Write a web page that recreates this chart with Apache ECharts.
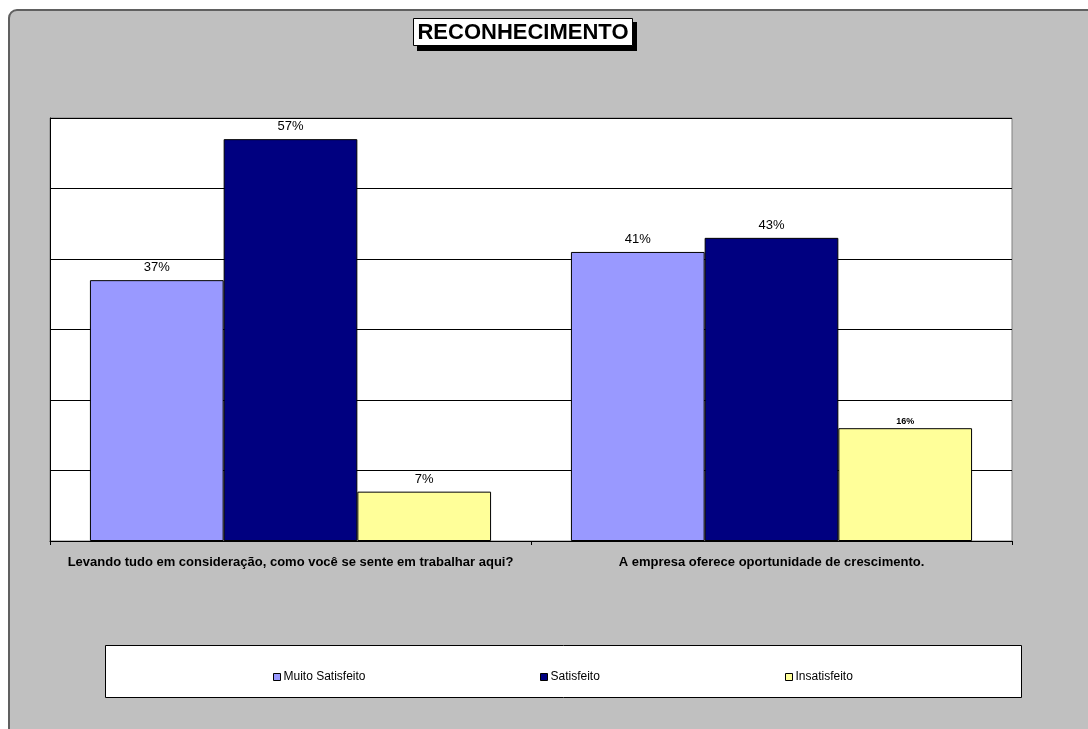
<!DOCTYPE html>
<html>
<head>
<meta charset="utf-8">
<script src="https://cdn.jsdelivr.net/npm/echarts@6/dist/echarts.min.js"></script>
<style>
  html, body { margin: 0; padding: 0; background: #ffffff; }
  #frame {
    position: absolute; left: 8px; top: 9px; width: 1100px; height: 740px;
    background: #C0C0C0; border: 2px solid #606060; border-radius: 9px; box-sizing: border-box;
  }
  #chart { position: absolute; left: 0; top: 0; width: 1088px; height: 729px; }
</style>
</head>
<body>
<div id="frame"></div>
<div id="chart"></div>
<script>
// Survey questions (x categories)
const categories = [
  'Levando tudo em consideração, como você se sente em trabalhar aqui?',
  'A empresa oferece oportunidade de crescimento.'
];
// Answer groups
const seriesNames = ['Muito Satisfeito', 'Satisfeito', 'Insatisfeito'];
// Percentages per question
const muitoSatisfeito = [37, 41];
const satisfeito = [57, 43];
const insatisfeito = [7, 16];
// Value axis range (percent)
const yMin = 0;
const yMax = 60;
const yStep = 10;

const colors = ['#9999FF', '#000080', '#FFFF99'];
const FONT = 'Liberation Sans, Arial, sans-serif';

const chart = echarts.init(document.getElementById('chart'), null, { renderer: 'canvas' });

function barSeries(name, values, color, labelOverrides) {
  return {
    name: name,
    type: 'bar',
    barGap: '0%',
    barCategoryGap: '16.6%',
    itemStyle: { color: color, borderColor: '#000000', borderWidth: 1 },
    label: {
      show: true, position: 'top', distance: 6,
      formatter: '{c}%', color: '#000000', fontFamily: FONT, fontSize: 13
    },
    data: values.map((v, i) => (labelOverrides && labelOverrides[i]) ? { value: v, label: labelOverrides[i] } : v)
  };
}

function legendAt(name, left) {
  return {
    data: [name], left: left, top: 666, orient: 'horizontal',
    icon: 'rect', itemWidth: 7, itemHeight: 7, itemGap: 0,
    itemStyle: { borderColor: '#000000', borderWidth: 1 },
    textStyle: { fontFamily: FONT, fontSize: 12, color: '#000000', padding: [0, 0, 0, -2] },
    selectedMode: false, z: 5
  };
}

const option = {
  animation: false,
  grid: {
    left: 50, top: 118, right: 76, bottom: 188,
    show: true, backgroundColor: '#ffffff', borderColor: '#808080', borderWidth: 1
  },
  xAxis: {
    type: 'category', data: categories,
    axisLine: { show: true, lineStyle: { color: '#000000', width: 1 } },
    axisTick: { show: true, length: 4, lineStyle: { color: '#000000' } },
    axisLabel: { interval: 0, margin: 15, fontFamily: FONT, fontSize: 13, fontWeight: 'bold', color: '#000000' }
  },
  yAxis: {
    type: 'value', min: yMin, max: yMax, interval: yStep,
    axisLine: { show: true, lineStyle: { color: '#000000' } },
    axisTick: { show: false },
    axisLabel: { show: false },
    splitLine: { show: true, lineStyle: { color: '#000000', width: 1 } }
  },
  legend: [
    legendAt(seriesNames[0], 268),
    legendAt(seriesNames[1], 535),
    legendAt(seriesNames[2], 780)
  ],
  graphic: [
    // legend box
    { type: 'rect', z: 1, shape: { x: 105.5, y: 645.5, width: 916, height: 52 },
      style: { fill: '#ffffff', stroke: '#000000', lineWidth: 1 } },
    // title box with drop shadow
    { type: 'rect', z: 1, shape: { x: 417, y: 22, width: 220, height: 29 },
      style: { fill: '#000000' } },
    { type: 'rect', z: 2, shape: { x: 413.5, y: 18.5, width: 219, height: 27 },
      style: { fill: '#ffffff', stroke: '#000000', lineWidth: 1 } },
    { type: 'text', z: 3, x: 523, y: 33,
      style: { text: 'RECONHECIMENTO', fill: '#000000', font: 'bold 22px ' + FONT,
               textAlign: 'center', textVerticalAlign: 'middle' } }
  ],
  series: [
    barSeries(seriesNames[0], muitoSatisfeito, colors[0]),
    barSeries(seriesNames[1], satisfeito, colors[1]),
    barSeries(seriesNames[2], insatisfeito, colors[2], [null, { fontSize: 9, fontWeight: 'bold', distance: 2 }])
  ]
};

chart.setOption(option);
</script>
</body>
</html>
